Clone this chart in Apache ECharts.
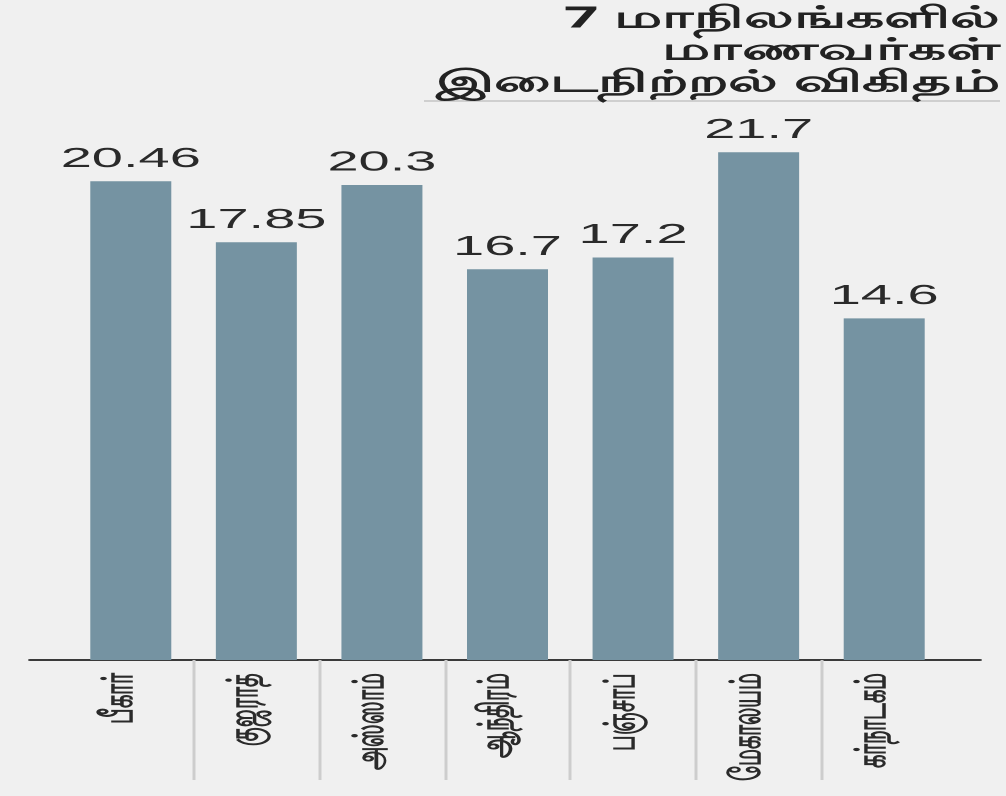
<!DOCTYPE html>
<html>
<head>
<meta charset="utf-8">
<script src="https://cdn.jsdelivr.net/npm/echarts@6/dist/echarts.min.js"></script>
<style>
  html, body { margin: 0; padding: 0; background: #f0f0f0; overflow: hidden; }
  /* the source picture is stretched about 2x sideways, so the chart is drawn half as wide and scaled */
  #main { width: 503px; height: 796px; transform: scaleX(2); transform-origin: 0 0; }
</style>
</head>
<body>
<div id="main"></div>
<script>
const states = ['பீகார்', 'குஜராத்', 'அஸ்ஸாம்', 'ஆந்திரம்', 'பஞ்சாப்', 'மேகாலயம்', 'கர்நாடகம்'];
const dropoutRate = [20.46, 17.85, 20.3, 16.7, 17.2, 21.7, 14.6];
const titleText = '7 மாநிலங்களில்\nமாணவர்கள்\nஇடைநிற்றல் விகிதம்';

const chart = echarts.init(document.getElementById('main'), null, {
  width: 503, height: 796, devicePixelRatio: 2
});

// bar band: 7 categories between left 34 and right 29.5
const bandLeft = 34;
const bandRight = 29.5;
const band = (503 - bandLeft - bandRight) / states.length;

const option = {
  backgroundColor: '#f0f0f0',
  title: {
    text: titleText,
    left: 'right',
    top: 0,
    padding: [3, 3, 0, 0],
    textStyle: {
      fontSize: 30,
      lineHeight: 32,
      fontWeight: 'bold',
      color: '#222',
      fontFamily: 'Noto Sans, sans-serif'
    }
  },
  graphic: [{
    type: 'line',
    shape: { x1: 212, y1: 101, x2: 500, y2: 101 },
    style: { stroke: '#cfcfcf', lineWidth: 2 }
  }],
  grid: [
    { left: bandLeft, right: bandRight, top: 75, bottom: 136 },
    { left: 15, right: 13, top: 75, bottom: 136 },
    // separators only between states, boundary 1 to boundary 6
    { left: bandLeft + band, right: bandRight + band, top: 75, bottom: 136 }
  ],
  xAxis: [{
    type: 'category',
    gridIndex: 0,
    data: states,
    axisLine: { show: false },
    axisTick: { show: false },
    axisLabel: {
      rotate: 90,
      margin: 13,
      fontSize: 21,
      lineHeight: 11,
      verticalAlign: 'bottom',
      fontWeight: 'bold',
      color: '#2a2a2a',
      fontFamily: 'Noto Sans, sans-serif'
    }
  }, {
    type: 'value',
    gridIndex: 1,
    min: 0,
    max: 1,
    axisLine: { show: true, onZero: false, lineStyle: { color: '#3a3a3a', width: 2 } },
    axisTick: { show: false },
    axisLabel: { show: false },
    splitLine: { show: false }
  }, {
    type: 'value',
    gridIndex: 2,
    min: 1,
    max: states.length - 1,
    interval: 1,
    axisLine: { show: false, onZero: false },
    axisTick: { show: true, length: 120, lineStyle: { color: '#cdcdcd', width: 1.5 } },
    axisLabel: { show: false },
    splitLine: { show: false }
  }],
  yAxis: [
    { type: 'value', gridIndex: 0, min: 0, max: 25, show: false },
    { type: 'value', gridIndex: 1, show: false },
    { type: 'value', gridIndex: 2, show: false }
  ],
  series: [{
    type: 'bar',
    xAxisIndex: 0,
    yAxisIndex: 0,
    data: dropoutRate,
    barCategoryGap: '35.5%',
    itemStyle: { color: '#7593a2' },
    label: {
      show: true,
      position: 'top',
      distance: 8,
      fontSize: 28,
      color: '#2a2a2a',
      fontFamily: 'Liberation Sans, Arial, sans-serif'
    }
  }]
};

chart.setOption(option);
</script>
</body>
</html>
